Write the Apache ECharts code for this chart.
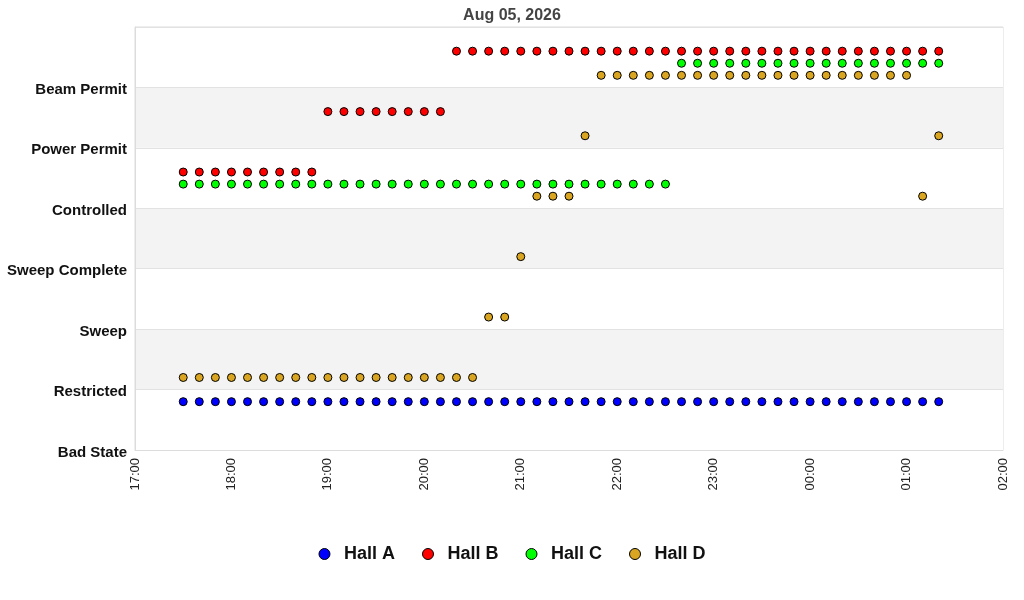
<!DOCTYPE html>
<html>
<head>
<meta charset="utf-8">
<script src="https://cdn.jsdelivr.net/npm/echarts@6/dist/echarts.min.js"></script>
<style>
  html, body { margin: 0; padding: 0; background: #fff; }
  #chart { width: 1024px; height: 600px; }
</style>
</head>
<body>
<div id="chart"></div>
<script>
// state names, bottom to top (top band has no label)
var stateNames = ['Bad State', 'Restricted', 'Sweep', 'Sweep Complete', 'Controlled', 'Power Permit', 'Beam Permit', ''];

// sample times, 10 minute steps (times before noon are on Aug 06)
var times = ['17:30','17:40','17:50','18:00','18:10','18:20','18:30','18:40','18:50','19:00','19:10','19:20',
             '19:30','19:40','19:50','20:00','20:10','20:20','20:30','20:40','20:50','21:00','21:10','21:20',
             '21:30','21:40','21:50','22:00','22:10','22:20','22:30','22:40','22:50','23:00','23:10','23:20',
             '23:30','23:40','23:50','00:00','00:10','00:20','00:30','00:40','00:50','01:00','01:10','01:20'];

// y positions per hall (state + small hall offset inside the band)
var hallA = [0.8,0.8,0.8,0.8,0.8,0.8,0.8,0.8,0.8,0.8,0.8,0.8,
             0.8,0.8,0.8,0.8,0.8,0.8,0.8,0.8,0.8,0.8,0.8,0.8,
             0.8,0.8,0.8,0.8,0.8,0.8,0.8,0.8,0.8,0.8,0.8,0.8,
             0.8,0.8,0.8,0.8,0.8,0.8,0.8,0.8,0.8,0.8,0.8,0.8];
var hallB = [4.6,4.6,4.6,4.6,4.6,4.6,4.6,4.6,4.6,5.6,5.6,5.6,
             5.6,5.6,5.6,5.6,5.6,6.6,6.6,6.6,6.6,6.6,6.6,6.6,
             6.6,6.6,6.6,6.6,6.6,6.6,6.6,6.6,6.6,6.6,6.6,6.6,
             6.6,6.6,6.6,6.6,6.6,6.6,6.6,6.6,6.6,6.6,6.6,6.6];
var hallC = [4.4,4.4,4.4,4.4,4.4,4.4,4.4,4.4,4.4,4.4,4.4,4.4,
             4.4,4.4,4.4,4.4,4.4,4.4,4.4,4.4,4.4,4.4,4.4,4.4,
             4.4,4.4,4.4,4.4,4.4,4.4,4.4,6.4,6.4,6.4,6.4,6.4,
             6.4,6.4,6.4,6.4,6.4,6.4,6.4,6.4,6.4,6.4,6.4,6.4];
var hallD = [1.2,1.2,1.2,1.2,1.2,1.2,1.2,1.2,1.2,1.2,1.2,1.2,
             1.2,1.2,1.2,1.2,1.2,1.2,1.2,2.2,2.2,3.2,4.2,4.2,
             4.2,5.2,6.2,6.2,6.2,6.2,6.2,6.2,6.2,6.2,6.2,6.2,
             6.2,6.2,6.2,6.2,6.2,6.2,6.2,6.2,6.2,6.2,4.2,5.2];

var hallNames = ['Hall A', 'Hall B', 'Hall C', 'Hall D'];
var hallColors = ['#0000ff', '#ff0000', '#00ff00', '#daa520'];

function toTs (t) {
    var h = parseInt(t.split(':')[0], 10);
    var day = h < 12 ? '2026-08-06' : '2026-08-05';
    return new Date(day + 'T' + t + ':00').getTime();
}

function pairs (vals) {
    return times.map(function (t, i) { return [toTs(t), vals[i]]; });
}

var chart = echarts.init(document.getElementById('chart'));

var series = [hallA, hallB, hallC, hallD].map(function (vals, k) {
    return {
        name: hallNames[k],
        type: 'scatter',
        symbol: 'circle',
        symbolSize: 8,
        itemStyle: { color: hallColors[k], borderColor: '#000', borderWidth: 1, opacity: 1 },
        data: pairs(vals)
    };
});

var option = {
    animation: false,
    backgroundColor: '#fff',
    title: {
        text: 'Aug 05, 2026',
        left: 'center',
        top: 3,
        textStyle: { fontFamily: 'Liberation Sans', fontSize: 16, fontWeight: 'bold', color: '#444' }
    },
    legend: {
        data: hallNames,
        bottom: 32,
        left: 'center',
        icon: 'circle',
        itemWidth: 11,
        itemHeight: 11,
        itemGap: 27,
        textStyle: { fontFamily: 'Liberation Sans', fontSize: 18, fontWeight: 'bold', color: '#111', padding: [0, 0, 0, 9] },
        itemStyle: { borderColor: '#000', borderWidth: 1 }
    },
    grid: {
        left: 135, right: 21, top: 27, bottom: 150,
        show: true, borderColor: '#dcdcdc', borderWidth: 1
    },
    xAxis: {
        type: 'time',
        min: new Date('2026-08-05T17:00:00').getTime(),
        max: new Date('2026-08-06T02:00:00').getTime(),
        minInterval: 3600 * 1000,
        maxInterval: 3600 * 1000,
        axisLine: { show: true, lineStyle: { color: '#dcdcdc' } },
        axisTick: { show: false },
        splitLine: { show: false },
        axisLabel: {
            rotate: 90,
            formatter: '{HH}:{mm}',
            fontFamily: 'Liberation Sans',
            fontSize: 13,
            color: '#222',
            margin: 8,
            hideOverlap: false,
            showMinLabel: true,
            showMaxLabel: true
        }
    },
    yAxis: {
        type: 'value',
        min: 0,
        max: 7,
        interval: 1,
        axisLine: { show: true, lineStyle: { color: '#dcdcdc' } },
        axisTick: { show: false },
        splitLine: { show: true, lineStyle: { color: '#e2e2e2' } },
        splitArea: { show: true, areaStyle: { color: ['#ffffff', '#f3f3f3'] } },
        axisLabel: {
            formatter: function (v) { return stateNames[v] || ''; },
            fontFamily: 'Liberation Sans',
            fontSize: 15,
            fontWeight: 'bold',
            color: '#111',
            margin: 8,
            verticalAlign: 'top',
            padding: [-5, 0, 0, 0]
        }
    },
    series: series
};

chart.setOption(option);
</script>
</body>
</html>
